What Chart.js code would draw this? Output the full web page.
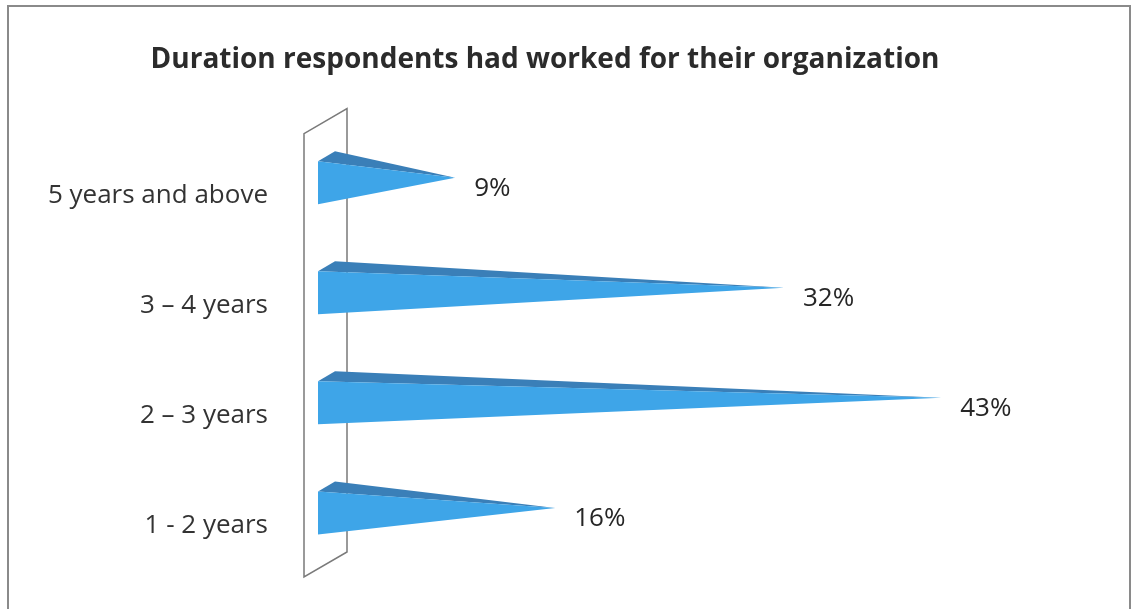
<!DOCTYPE html>
<html>
<head>
<meta charset="utf-8">
<script src="https://cdn.jsdelivr.net/npm/chart.js@4/dist/chart.umd.min.js"></script>
<style>
  body { margin: 0; background: #fff; overflow: hidden; }
  #wrap { position: relative; width: 1132px; height: 609px; overflow: hidden; }
  #frame {
    position: absolute; left: 7px; top: 5px; width: 1120px; height: 620px;
    border: 2px solid #8a8a8a; border-bottom: none;
  }
  canvas { position: absolute; left: 0; top: 0; }
</style>
</head>
<body>
<div id="wrap">
  <div id="frame"></div>
  <canvas id="durationChart"></canvas>
</div>
<script>
const categories = ['5 years and above', '3 – 4 years', '2 – 3 years', '1 - 2 years'];
const percentages = [9, 32, 43, 16];

const FRONT = '#3ea5e8';
const TOP = '#3a7fb8';
const DEPTH_X = 17, DEPTH_Y = -10;

// back wall outline behind the bars
const wallPlugin = {
    id: 'wall',
    beforeDatasetsDraw(chart) {
        const { ctx, chartArea, scales } = chart;
        const x0 = scales.x.getPixelForValue(0) - 14;
        const yTop = chartArea.top + 6, yBot = chartArea.bottom + 9;
        const dx = 43, dy = -25;
        ctx.save();
        ctx.strokeStyle = '#7a7a7a';
        ctx.lineWidth = 1.5;
        ctx.beginPath();
        ctx.moveTo(x0, yBot);
        ctx.lineTo(x0, yTop);
        ctx.lineTo(x0 + dx, yTop + dy);
        ctx.lineTo(x0 + dx, yBot + dy);
        ctx.closePath();
        ctx.stroke();
        ctx.restore();
    }
};

// pyramid shapes on top of each (invisible) bar
const pyramidPlugin = {
    id: 'pyramids',
    afterDatasetsDraw(chart) {
        const { ctx } = chart;
        const meta = chart.getDatasetMeta(0);
        ctx.save();
        meta.data.forEach((bar, i) => {
            const x0 = bar.base, h = bar.height;
            const top = bar.y - h / 2, bottom = bar.y + h / 2;
            const ax = bar.x + DEPTH_X / 2, ay = bar.y + DEPTH_Y / 2;

            ctx.fillStyle = TOP;
            ctx.beginPath();
            ctx.moveTo(x0, top);
            ctx.lineTo(x0 + DEPTH_X, top + DEPTH_Y);
            ctx.lineTo(ax, ay);
            ctx.closePath();
            ctx.fill();

            ctx.fillStyle = FRONT;
            ctx.beginPath();
            ctx.moveTo(x0, top);
            ctx.lineTo(x0, bottom);
            ctx.lineTo(ax, ay);
            ctx.closePath();
            ctx.fill();

            ctx.fillStyle = '#262626';
            ctx.font = '26px "Open Sans"';
            ctx.textAlign = 'left';
            ctx.textBaseline = 'middle';
            ctx.fillText(percentages[i] + '%', ax + 19, ay + 11);
        });
        ctx.restore();
    }
};

const ctx = document.getElementById('durationChart').getContext('2d');
new Chart(ctx, {
    type: 'bar',
    data: {
        labels: categories,
        datasets: [{
            data: percentages,
            backgroundColor: 'rgba(0,0,0,0)',
            barThickness: 43
        }]
    },
    options: {
        indexAxis: 'y',
        responsive: true,
        maintainAspectRatio: false,
        animation: false,
        layout: { padding: { left: 0, right: 42, top: 0, bottom: 41 } },
        plugins: {
            legend: { display: false },
            tooltip: { enabled: false },
            title: {
                display: true,
                text: 'Duration respondents had worked for their organization',
                color: '#2b2b2b',
                font: { family: '"Open Sans"', size: 28, weight: 'bold' },
                padding: { top: 43, bottom: 51 }
            }
        },
        scales: {
            x: { display: false, min: 0, max: 54 },
            y: {
                grid: { display: false, drawTicks: false },
                border: { display: false },
                afterFit(scale) {
                    scale.width = 318;
                    scale.paddingTop = 0;
                    scale.paddingBottom = 0;
                },
                ticks: {
                    color: '#333',
                    padding: 50,
                    labelOffset: 13,
                    font: { family: '"Open Sans"', size: 26 }
                }
            }
        }
    },
    plugins: [wallPlugin, pyramidPlugin]
});
</script>
</body>
</html>
